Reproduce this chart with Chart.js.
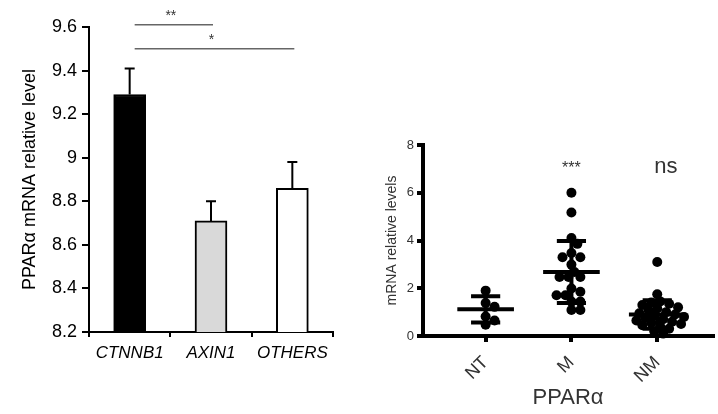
<!DOCTYPE html>
<html>
<head>
<meta charset="utf-8">
<script src="https://cdn.jsdelivr.net/npm/chart.js@4.4.1/dist/chart.umd.min.js"></script>
<style>
body { margin: 0; background: #fff; width: 718px; height: 414px; position: relative; overflow: hidden; }
#left { position: absolute; left: 0; top: 0; width: 350px; height: 414px; }
#right { position: absolute; left: 360px; top: 120px; width: 358px; height: 294px; }
</style>
</head>
<body>
<div id="left"><canvas id="barChart"></canvas></div>
<div id="right"><canvas id="dotChart"></canvas></div>
<script>
// left panel: PPARa level by mutation group
var genes = ['CTNNB1', 'AXIN1', 'OTHERS'];
var geneMeans = [9.29, 8.71, 8.86];
var geneErrors = [0.12, 0.09, 0.12];
var barColors = ['#000000', '#d9d9d9', '#ffffff'];
var sigPairs = [[0, 1], [0, 2]];
var sigLevels = [9.61, 9.5];
var sigLabels = ['**', '*'];

// right panel: dot plot
var groups = ['NT', 'M', 'NM'];
var ntValues = [1.9, 1.38, 1.22, 0.82, 0.65, 0.47];
var mValues = [6.0, 5.17, 4.1, 3.86, 3.48, 3.3, 3.3, 2.99, 2.68, 2.47, 2.47, 2.47,
    1.99, 1.85, 1.71, 1.71, 1.44, 1.44, 1.09, 1.09];
var nmValues = [3.1, 1.75, 1.45, 1.4, 1.35, 1.3, 1.2, 1.15, 1.1, 1.0, 0.95, 0.9, 0.85,
    0.8, 0.75, 0.7, 0.65, 0.6, 0.55, 0.5, 0.45, 0.4, 0.3, 0.2, 0.1];
var groupMeans = [1.12, 2.68, 0.9];
var groupSDs = [0.55, 1.3, 0.6];
var groupMarks = ['', '***', 'ns'];

Chart.defaults.font.family = '"Liberation Sans", Arial, sans-serif';

var errorBars = {
    id: 'errorBars',
    afterDatasetsDraw: function (chart) {
        var ctx = chart.ctx, y = chart.scales.y, x = chart.scales.x;
        var meta = chart.getDatasetMeta(0);
        ctx.save();
        ctx.strokeStyle = '#000';
        ctx.lineWidth = 2;
        meta.data.forEach(function (bar, i) {
            var top = y.getPixelForValue(geneMeans[i] + geneErrors[i]);
            ctx.beginPath();
            ctx.moveTo(bar.x, bar.y);
            ctx.lineTo(bar.x, top);
            ctx.moveTo(bar.x - 5, top);
            ctx.lineTo(bar.x + 5, top);
            ctx.stroke();
        });
        // significance lines
        ctx.strokeStyle = '#666';
        ctx.lineWidth = 1.5;
        ctx.fillStyle = '#333';
        ctx.font = '14px "Liberation Sans", Arial';
        ctx.textAlign = 'center';
        sigPairs.forEach(function (p, k) {
            var x1 = x.getPixelForValue(p[0]) + 5, x2 = x.getPixelForValue(p[1]) + 2;
            var ly = y.getPixelForValue(sigLevels[k]);
            ctx.beginPath();
            ctx.moveTo(x1, ly);
            ctx.lineTo(x2, ly);
            ctx.stroke();
            ctx.fillText(sigLabels[k], (x1 + x2) / 2 - 3, ly - 5);
        });
        ctx.restore();
    }
};

new Chart(document.getElementById('barChart'), {
    type: 'bar',
    data: {
        labels: genes,
        datasets: [{
            data: geneMeans,
            backgroundColor: barColors,
            borderColor: '#000',
            borderWidth: 2,
            barThickness: 32
        }]
    },
    options: {
        responsive: true,
        maintainAspectRatio: false,
        animation: false,
        layout: { padding: { top: 27, right: 17, left: 0, bottom: 0 } },
        plugins: { legend: { display: false }, tooltip: { enabled: false } },
        scales: {
            x: {
                offset: true,
                grid: { offset: true, drawOnChartArea: false, color: '#000', lineWidth: 2, tickLength: 5 },
                border: { color: '#000', width: 2 },
                ticks: { color: '#000', font: { size: 17, style: 'italic' }, padding: 6, maxRotation: 0 },
                afterFit: function (s) { s.height = 82; }
            },
            y: {
                min: 8.2,
                max: 9.6,
                ticks: {
                    stepSize: 0.2,
                    color: '#000',
                    font: { size: 18 },
                    padding: 5,
                    callback: function (v) { return String(parseFloat(v.toFixed(1))); }
                },
                grid: { drawOnChartArea: false, color: '#000', lineWidth: 2, tickLength: 7 },
                border: { color: '#000', width: 2 },
                title: {
                    display: true,
                    text: 'PPARα mRNA relative level',
                    color: '#000',
                    font: { size: 18 },
                    padding: { top: 19, bottom: 0 }
                },
                afterFit: function (s) { s.width = 89; }
            }
        }
    },
    plugins: [errorBars]
});

// simple deterministic beeswarm so dots do not pile on one another
function swarm(values, center) {
    var placed = [];
    return values.map(function (v) {
        var py = v * 24, dx = 0;
        for (var k = 0; k < 40; k++) {
            dx = (k % 2 ? 1 : -1) * Math.ceil(k / 2) * 3;
            var hit = placed.some(function (p) {
                var ddx = p[0] - dx, ddy = p[1] - py;
                return ddx * ddx + ddy * ddy < 56;
            });
            if (!hit) break;
        }
        placed.push([dx, py]);
        return { x: center + dx / 86.5, y: v };
    });
}

var meanSD = {
    id: 'meanSD',
    afterDatasetsDraw: function (chart) {
        var ctx = chart.ctx, x = chart.scales.x, y = chart.scales.y;
        ctx.save();
        ctx.strokeStyle = '#000';
        ctx.lineWidth = 4;
        groups.forEach(function (g, i) {
            var c = i + 1;
            var ym = y.getPixelForValue(groupMeans[i]);
            var yt = y.getPixelForValue(groupMeans[i] + groupSDs[i]);
            var yb = y.getPixelForValue(groupMeans[i] - groupSDs[i]);
            ctx.beginPath();
            ctx.moveTo(x.getPixelForValue(c - 0.33), ym);
            ctx.lineTo(x.getPixelForValue(c + 0.33), ym);
            ctx.moveTo(x.getPixelForValue(c), yt);
            ctx.lineTo(x.getPixelForValue(c), yb);
            ctx.moveTo(x.getPixelForValue(c - 0.17), yt);
            ctx.lineTo(x.getPixelForValue(c + 0.17), yt);
            ctx.moveTo(x.getPixelForValue(c - 0.17), yb);
            ctx.lineTo(x.getPixelForValue(c + 0.17), yb);
            ctx.stroke();
        });
        ctx.fillStyle = '#333';
        ctx.textAlign = 'center';
        ctx.textBaseline = 'middle';
        ctx.font = '16px "Liberation Sans", Arial';
        ctx.fillText(groupMarks[1], x.getPixelForValue(2), y.getPixelForValue(7.0));
        ctx.font = '22px "Liberation Sans", Arial';
        ctx.fillText(groupMarks[2], x.getPixelForValue(3.1), y.getPixelForValue(7.1));
        ctx.restore();
    }
};

var dotStyle = { pointRadius: 5, pointHoverRadius: 5, backgroundColor: '#000', borderWidth: 0, clip: false };

new Chart(document.getElementById('dotChart'), {
    type: 'scatter',
    data: {
        datasets: [
            Object.assign({ data: swarm(ntValues, 1) }, dotStyle),
            Object.assign({ data: swarm(mValues, 2) }, dotStyle),
            Object.assign({ data: swarm(nmValues, 3) }, dotStyle)
        ]
    },
    options: {
        responsive: true,
        maintainAspectRatio: false,
        animation: false,
        layout: { padding: { top: 25, right: 3, left: 0, bottom: 0 } },
        plugins: { legend: { display: false }, tooltip: { enabled: false } },
        scales: {
            x: {
                type: 'linear',
                min: 0.27,
                max: 3.65,
                afterBuildTicks: function (s) {
                    s.ticks = groups.map(function (g, i) { return { value: i + 1 }; });
                },
                ticks: {
                    color: '#333',
                    font: { size: 18 },
                    minRotation: 45,
                    maxRotation: 45,
                    padding: 10,
                    callback: function (v) { return groups[v - 1]; }
                },
                grid: { drawOnChartArea: false, color: '#000', lineWidth: 4, tickLength: 6 },
                border: { color: '#000', width: 4 },
                title: {
                    display: true,
                    text: 'PPARα',
                    color: '#333',
                    font: { size: 22 },
                    padding: { top: 0, bottom: 3 }
                },
                afterFit: function (s) { s.height = 78; }
            },
            y: {
                min: 0,
                max: 8,
                ticks: { stepSize: 2, color: '#333', font: { size: 13 }, padding: 3 },
                grid: { drawOnChartArea: false, color: '#000', lineWidth: 4, tickLength: 6 },
                border: { color: '#000', width: 4 },
                title: {
                    display: true,
                    text: 'mRNA relative levels',
                    color: '#333',
                    font: { size: 14 },
                    padding: { top: 24, bottom: 0 }
                },
                afterFit: function (s) { s.width = 63; }
            }
        }
    },
    plugins: [meanSD]
});
</script>
</body>
</html>
